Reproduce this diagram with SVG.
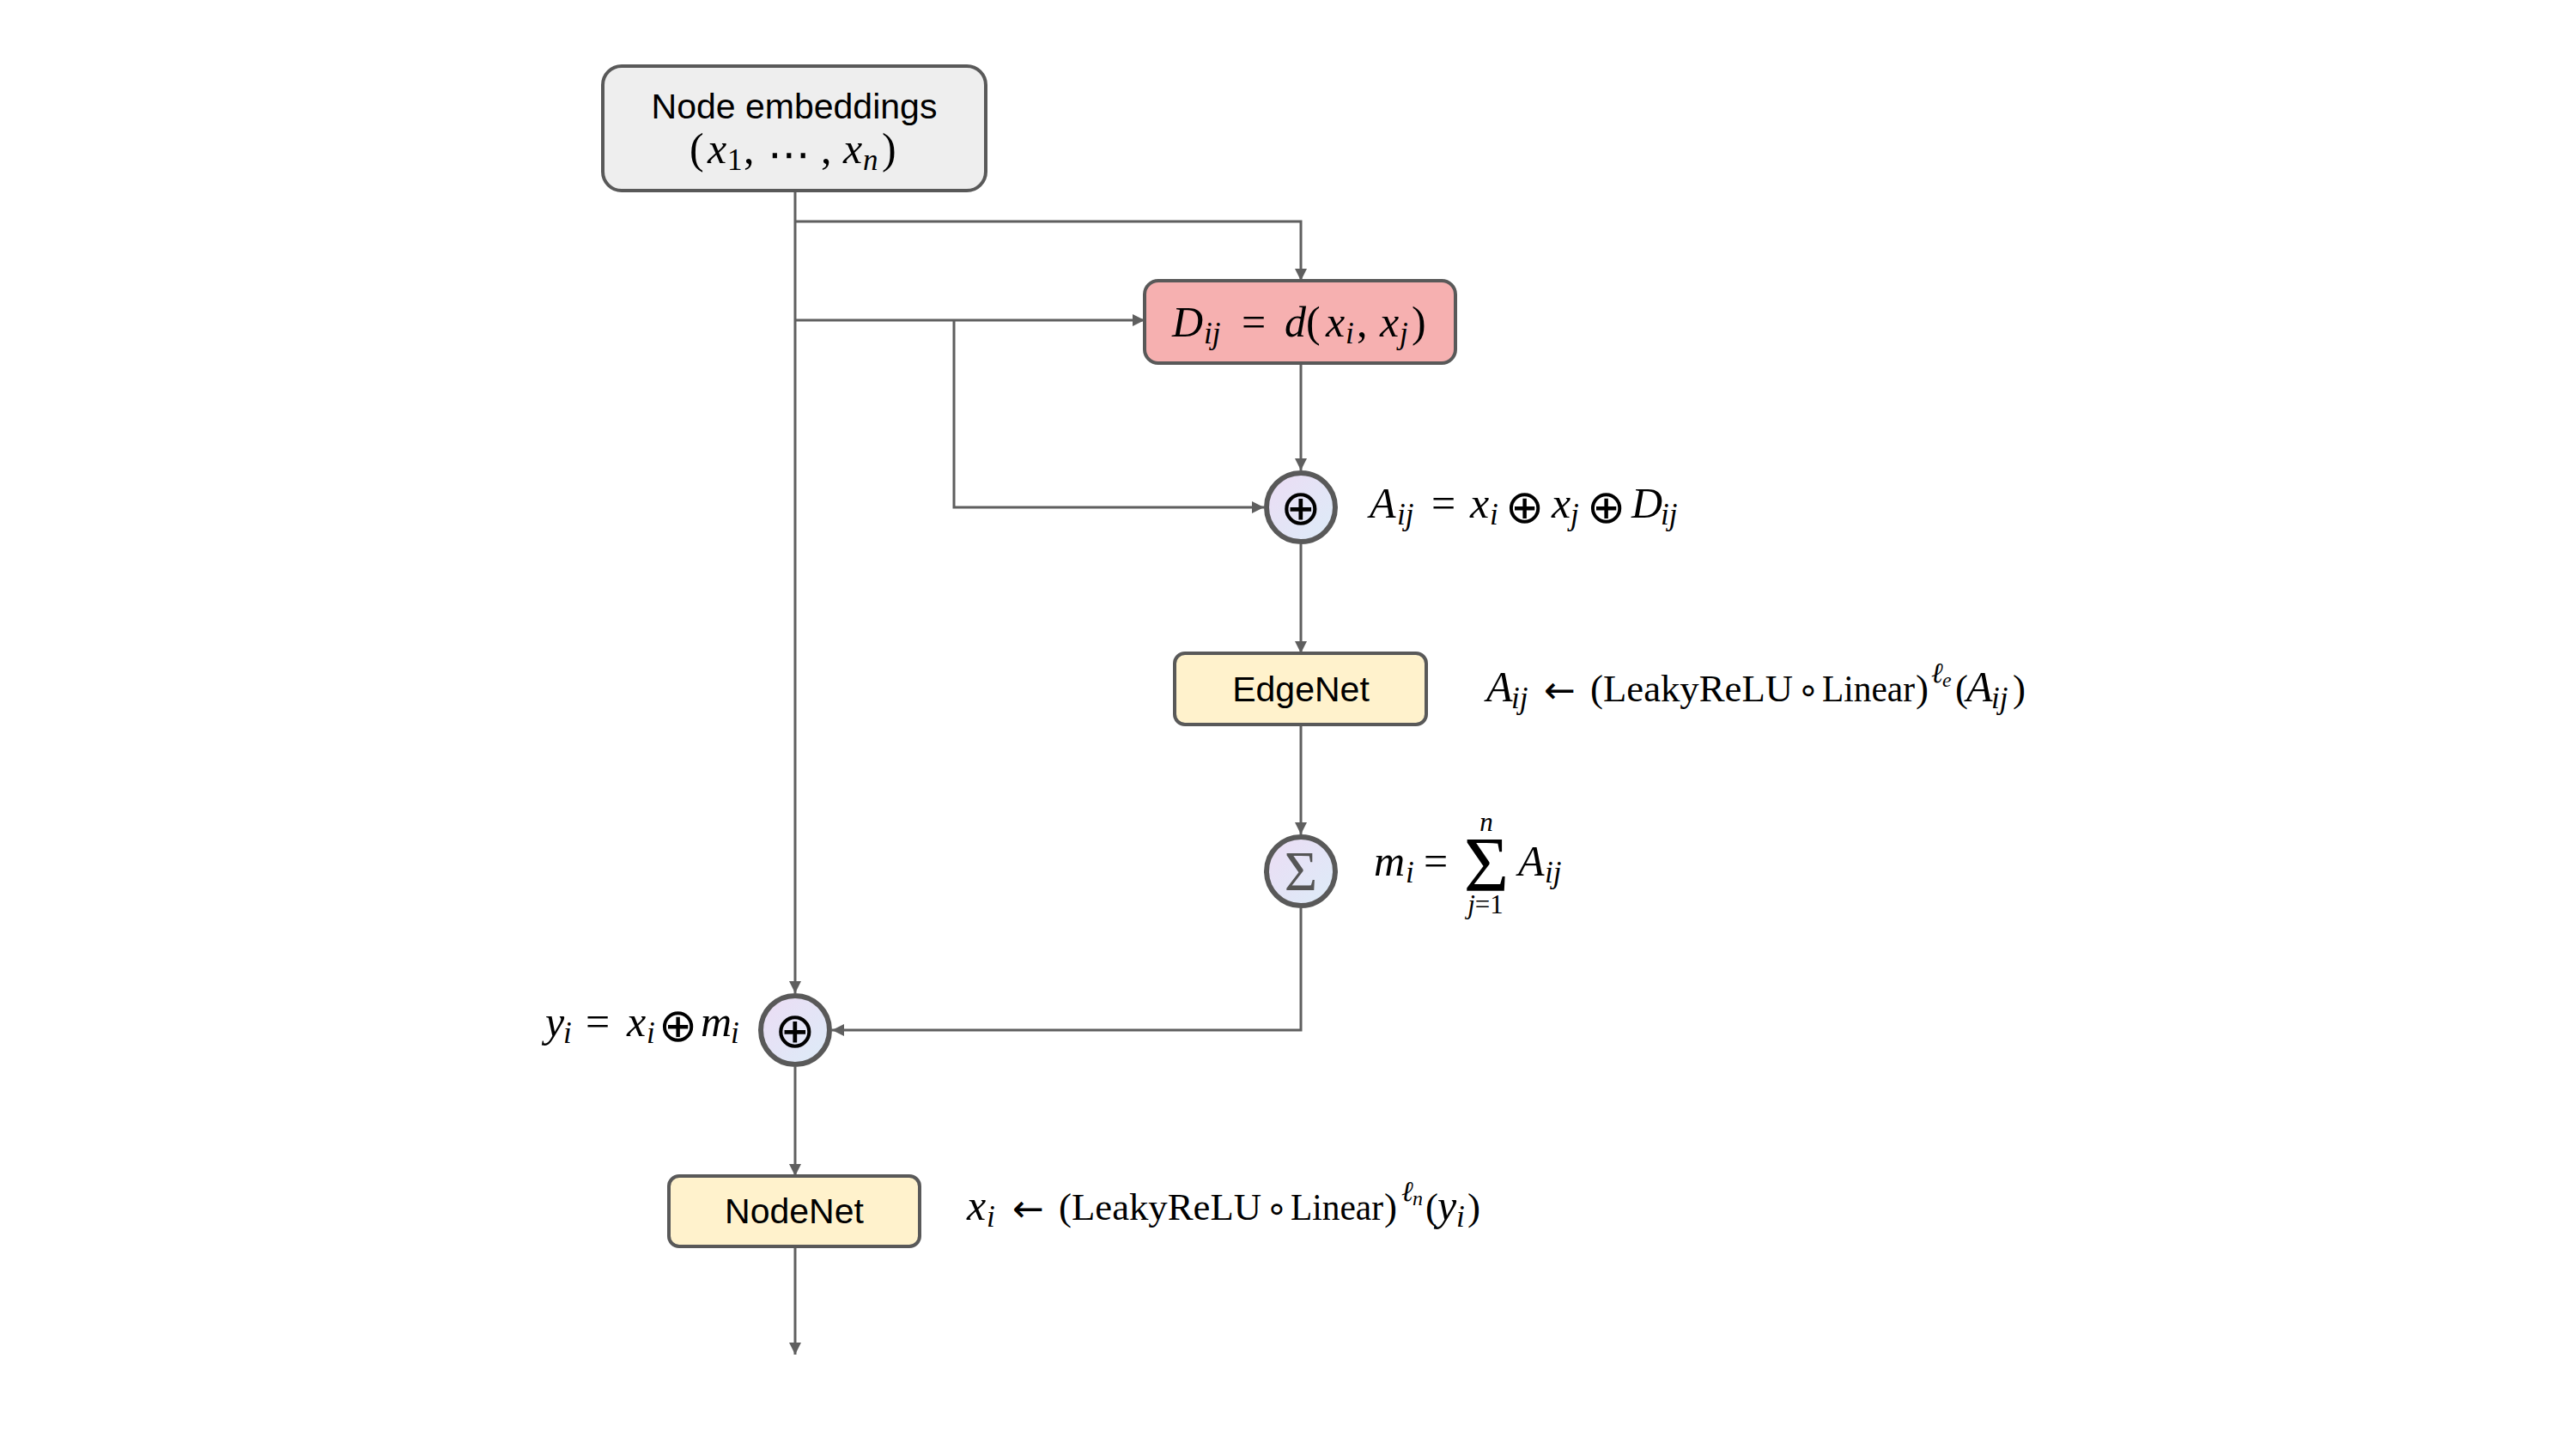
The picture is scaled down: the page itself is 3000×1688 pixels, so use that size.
<svg xmlns="http://www.w3.org/2000/svg" width="3000" height="1688" viewBox="0 0 3000 1688">
<style>
.box{stroke:#595959;stroke-width:4}
.ln{fill:none;stroke:#5f5f5f;stroke-width:3}
.circ{fill:url(#cg);stroke:#595959;stroke-width:6}
.sans{font-family:"Liberation Sans",Arial,sans-serif;font-size:41px;fill:#000}
.m{font-family:"Liberation Serif","DejaVu Serif",serif;font-size:50px;fill:#000}
.i{font-style:italic}
.s{font-size:35px}
.sup{font-size:33px}
.ss{font-size:24px}
.up{font-size:45px}
.op{font-family:"DejaVu Sans",sans-serif;font-size:54px}
.cop{font-family:"DejaVu Sans",sans-serif;font-size:57px;fill:#000}
.arr{font-family:"DejaVu Sans",sans-serif;font-size:44px}
.ring{font-family:"DejaVu Sans",sans-serif;font-size:42px;fill:#000}
</style>
<defs>
<linearGradient id="cg" x1="0" y1="0" x2="1" y2="1">
<stop offset="0" stop-color="#ecdcf4"/>
<stop offset="1" stop-color="#dcecf8"/>
</linearGradient>
<marker id="ah" viewBox="0 0 10 10" refX="10" refY="5" markerWidth="18" markerHeight="14" markerUnits="userSpaceOnUse" orient="auto">
<path d="M0,0 L10,5 L0,10 z" fill="#5f5f5f"/>
</marker>
</defs>
<rect width="3000" height="1688" fill="#fff"/>
<g id="connectors">
<path class="ln" d="M926,222 V1157" marker-end="url(#ah)"/>
<path class="ln" d="M926,258 H1515 V327" marker-end="url(#ah)"/>
<path class="ln" d="M926,373 H1333" marker-end="url(#ah)"/>
<path class="ln" d="M1111,373 V591 H1472" marker-end="url(#ah)"/>
<path class="ln" d="M1515,423 V548" marker-end="url(#ah)"/>
<path class="ln" d="M1515,634 V761" marker-end="url(#ah)"/>
<path class="ln" d="M1515,844 V972" marker-end="url(#ah)"/>
<path class="ln" d="M1515,1058 V1200 H969" marker-end="url(#ah)"/>
<path class="ln" d="M926,1243 V1370" marker-end="url(#ah)"/>
<path class="ln" d="M926,1452 V1578" marker-end="url(#ah)"/>
</g>
<g id="node-embeddings">
<rect class="box" x="702" y="77" width="446" height="145" rx="22" fill="#eeeeee"/>
<text class="sans" x="925" y="138" text-anchor="middle">Node embeddings</text>
<text class="m"><tspan x="803" y="190">(</tspan><tspan class="i" x="824" y="190">x</tspan><tspan class="s" x="847" y="198">1</tspan><tspan x="866" y="190">,</tspan><tspan x="894" y="197" style="font-family:'DejaVu Sans',sans-serif;font-size:50px">⋯</tspan><tspan x="956" y="190">,</tspan><tspan class="i" x="982" y="190">x</tspan><tspan class="i s" x="1005" y="198">n</tspan><tspan x="1027" y="190">)</tspan></text>
</g>
<g id="distance">
<rect class="box" x="1333" y="327" width="362" height="96" rx="16" fill="#f6b0b0"/>
<text class="m"><tspan class="i" x="1365" y="392">D</tspan><tspan class="i s" x="1402" y="400">ij</tspan><tspan x="1446" y="392">=</tspan><tspan class="i" x="1496" y="392">d</tspan><tspan x="1521" y="392">(</tspan><tspan class="i" x="1544" y="392">x</tspan><tspan class="i s" x="1567" y="400">i</tspan><tspan x="1580" y="392">,</tspan><tspan class="i" x="1607" y="392">x</tspan><tspan class="i s" x="1630" y="400">j</tspan><tspan x="1644" y="392">)</tspan></text>
</g>
<g id="concat-edge">
<circle class="circ" cx="1515" cy="591" r="40"/>
<text class="cop" x="1515" y="611" text-anchor="middle">⊕</text>
<text class="m"><tspan class="i" x="1595" y="603">A</tspan><tspan class="i s" x="1627" y="611">ij</tspan><tspan x="1667" y="603">=</tspan><tspan class="i" x="1712" y="603">x</tspan><tspan class="i s" x="1735" y="611">i</tspan><tspan class="op" x="1753" y="609">⊕</tspan><tspan class="i" x="1807" y="603">x</tspan><tspan class="i s" x="1829" y="611">j</tspan><tspan class="op" x="1848" y="609">⊕</tspan><tspan class="i" x="1900" y="603">D</tspan><tspan class="i s" x="1934" y="611">ij</tspan></text>
</g>
<g id="edgenet">
<rect class="box" x="1368" y="761" width="293" height="83" rx="12" fill="#fff2cc"/>
<text class="sans" x="1515" y="817" text-anchor="middle">EdgeNet</text>
<text class="m"><tspan class="i" x="1731" y="817">A</tspan><tspan class="i s" x="1760" y="825">ij</tspan><tspan class="arr" x="1798" y="819">←</tspan><tspan class="up" x="1852" y="817">(</tspan><tspan class="up" x="1867" y="817" textLength="221" lengthAdjust="spacingAndGlyphs">LeakyReLU</tspan><tspan class="up" x="2122" y="817" textLength="108" lengthAdjust="spacingAndGlyphs">Linear</tspan><tspan class="up" x="2231" y="817">)</tspan><tspan class="i sup" x="2249" y="795">ℓ</tspan><tspan class="i ss" x="2262" y="800">e</tspan><tspan class="up" x="2277" y="817">(</tspan><tspan class="i" x="2290" y="817">A</tspan><tspan class="i s" x="2319" y="825">ij</tspan><tspan class="up" x="2344" y="817">)</tspan></text>
<text class="ring" x="2106" y="818" text-anchor="middle">∘</text>
</g>
<g id="aggregate">
<circle class="circ" cx="1515" cy="1015" r="40"/>
<text class="m" x="1515" y="1037" style="font-size:66px;fill:#555" text-anchor="middle">Σ</text>
<text class="m"><tspan class="i" x="1600" y="1020">m</tspan><tspan class="i s" x="1637" y="1028">i</tspan><tspan x="1658" y="1020">=</tspan></text>
<text class="m" x="1731" y="1038" style="font-size:90px" text-anchor="middle">Σ</text>
<text class="m i" x="1731" y="968" style="font-size:31px" text-anchor="middle">n</text>
<text class="m" x="1730" y="1064" style="font-size:31px" text-anchor="middle"><tspan class="i">j</tspan>=1</text>
<text class="m"><tspan class="i" x="1768" y="1020">A</tspan><tspan class="i s" x="1799" y="1028">ij</tspan></text>
</g>
<g id="concat-node">
<circle class="circ" cx="926" cy="1200" r="40"/>
<text class="cop" x="926" y="1220" text-anchor="middle">⊕</text>
<text class="m"><tspan class="i" x="635" y="1207">y</tspan><tspan class="i s" x="656" y="1215">i</tspan><tspan x="682" y="1207">=</tspan><tspan class="i" x="730" y="1207">x</tspan><tspan class="i s" x="753" y="1215">i</tspan><tspan class="op" x="767" y="1213">⊕</tspan><tspan class="i" x="816" y="1207">m</tspan><tspan class="i s" x="851" y="1215">i</tspan></text>
</g>
<g id="nodenet">
<rect class="box" x="779" y="1370" width="292" height="82" rx="12" fill="#fff2cc"/>
<text class="sans" x="925" y="1425" text-anchor="middle">NodeNet</text>
<text class="m"><tspan class="i" x="1126" y="1421">x</tspan><tspan class="i s" x="1149" y="1429">i</tspan><tspan class="arr" x="1179" y="1423">←</tspan><tspan class="up" x="1233" y="1421">(</tspan><tspan class="up" x="1248" y="1421" textLength="221" lengthAdjust="spacingAndGlyphs">LeakyReLU</tspan><tspan class="up" x="1503" y="1421" textLength="108" lengthAdjust="spacingAndGlyphs">Linear</tspan><tspan class="up" x="1612" y="1421">)</tspan><tspan class="i sup" x="1632" y="1399">ℓ</tspan><tspan class="i ss" x="1645" y="1404">n</tspan><tspan class="up" x="1660" y="1421">(</tspan><tspan class="i" x="1674" y="1421">y</tspan><tspan class="i s" x="1696" y="1429">i</tspan><tspan class="up" x="1709" y="1421">)</tspan></text>
<text class="ring" x="1487" y="1422" text-anchor="middle">∘</text>
</g>
</svg>
